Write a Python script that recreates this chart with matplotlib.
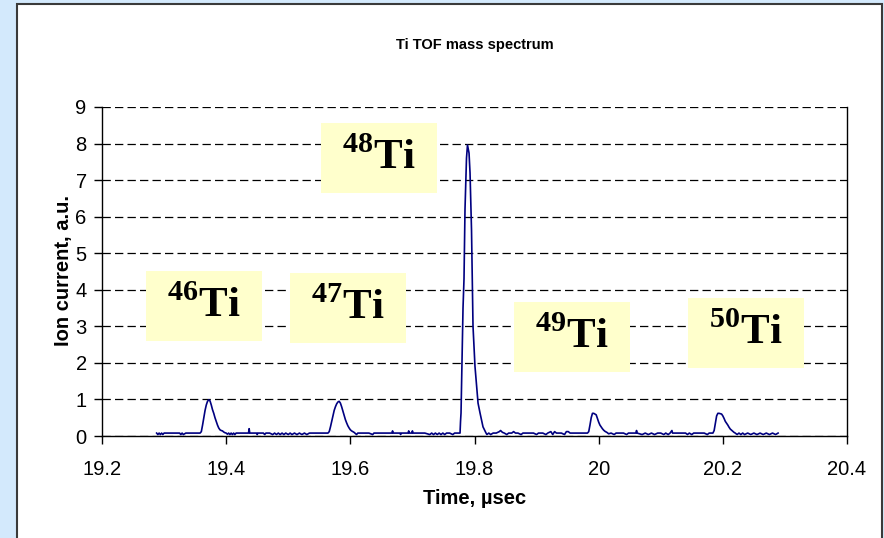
import matplotlib
matplotlib.use("Agg")
import matplotlib.pyplot as plt
from matplotlib.patches import Rectangle

# data, split into windows around each isotope
t_46 = [19.288, 19.290, 19.292, 19.294, 19.296, 19.298, 19.300, 19.305, 19.310, 19.315,
        19.320, 19.325, 19.327, 19.329, 19.331, 19.335, 19.340, 19.345, 19.350, 19.355,
        19.358, 19.360, 19.362, 19.364, 19.366, 19.368, 19.370, 19.372, 19.374, 19.376,
        19.378, 19.380, 19.382, 19.384, 19.386, 19.388, 19.390, 19.392, 19.394, 19.396,
        19.398, 19.400, 19.402, 19.404, 19.406, 19.408, 19.410, 19.412, 19.414, 19.416,
        19.420, 19.425, 19.430, 19.436, 19.437, 19.438, 19.445, 19.449, 19.450, 19.451,
        19.460, 19.462, 19.464, 19.470]
i_46 = [0.08, 0.04, 0.08, 0.04, 0.08, 0.04, 0.08, 0.08, 0.08, 0.08,
        0.08, 0.08, 0.04, 0.08, 0.04, 0.08, 0.08, 0.08, 0.08, 0.08,
        0.08, 0.12, 0.30, 0.50, 0.70, 0.85, 0.95, 0.99, 0.96, 0.85,
        0.72, 0.62, 0.50, 0.40, 0.30, 0.22, 0.17, 0.15, 0.14, 0.11,
        0.09, 0.08, 0.05, 0.08, 0.04, 0.08, 0.04, 0.08, 0.04, 0.08,
        0.08, 0.08, 0.08, 0.08, 0.20, 0.08, 0.08, 0.08, 0.04, 0.08,
        0.08, 0.04, 0.08, 0.08]

t_47 = [19.475, 19.478, 19.481, 19.484, 19.487, 19.490, 19.493, 19.496, 19.500, 19.503,
        19.506, 19.510, 19.514, 19.518, 19.522, 19.526, 19.530, 19.534, 19.540, 19.550,
        19.560, 19.564, 19.566, 19.568, 19.570, 19.572, 19.574, 19.576, 19.578, 19.580,
        19.582, 19.584, 19.586, 19.588, 19.590, 19.592, 19.594, 19.596, 19.598, 19.600,
        19.602, 19.604, 19.606, 19.608, 19.610, 19.612, 19.620, 19.630, 19.636, 19.638,
        19.640, 19.660, 19.667, 19.668, 19.669, 19.680, 19.681, 19.682, 19.690]
i_47 = [0.04, 0.08, 0.04, 0.08, 0.04, 0.08, 0.04, 0.08, 0.04, 0.08,
        0.04, 0.08, 0.04, 0.08, 0.04, 0.08, 0.04, 0.08, 0.08, 0.08,
        0.08, 0.08, 0.12, 0.25, 0.40, 0.55, 0.70, 0.80, 0.88, 0.93,
        0.95, 0.90, 0.80, 0.68, 0.55, 0.45, 0.36, 0.28, 0.22, 0.17,
        0.14, 0.12, 0.10, 0.07, 0.04, 0.08, 0.08, 0.08, 0.04, 0.08,
        0.08, 0.08, 0.08, 0.14, 0.08, 0.08, 0.04, 0.08, 0.08]

t_48 = [19.693, 19.694, 19.695, 19.699, 19.700, 19.701, 19.710, 19.720, 19.728, 19.731,
        19.734, 19.737, 19.740, 19.743, 19.746, 19.749, 19.752, 19.755, 19.760, 19.765,
        19.768, 19.772, 19.7767, 19.7775, 19.7783, 19.7799, 19.7815, 19.7831, 19.7847, 19.7871,
        19.7887, 19.7912, 19.7928, 19.7952, 19.7976, 19.8008, 19.8057, 19.8089, 19.8137, 19.8186,
        19.820, 19.823, 19.826, 19.830, 19.835, 19.840, 19.842, 19.845, 19.848, 19.852,
        19.855, 19.860, 19.863, 19.866, 19.870, 19.875, 19.878, 19.885, 19.890]
i_48 = [0.08, 0.14, 0.08, 0.08, 0.14, 0.08, 0.08, 0.08, 0.04, 0.08,
        0.04, 0.08, 0.04, 0.08, 0.04, 0.08, 0.04, 0.08, 0.08, 0.04,
        0.08, 0.08, 0.08, 0.40, 0.63, 2.00, 3.50, 4.30, 6.20, 7.60,
        7.96, 7.74, 7.20, 5.63, 3.00, 1.90, 0.90, 0.63, 0.25, 0.08,
        0.04, 0.08, 0.04, 0.08, 0.08, 0.12, 0.15, 0.10, 0.08, 0.04,
        0.08, 0.08, 0.12, 0.08, 0.08, 0.04, 0.08, 0.08, 0.08]

t_49 = [19.895, 19.900, 19.903, 19.910, 19.915, 19.918, 19.923, 19.926, 19.929, 19.932,
        19.940, 19.945, 19.948, 19.951, 19.954, 19.965, 19.975, 19.982, 19.984, 19.986,
        19.988, 19.990, 19.992, 19.994, 19.996, 19.998, 20.000, 20.002, 20.004, 20.006,
        20.008, 20.010, 20.012, 20.014, 20.016, 20.020, 20.025, 20.028, 20.040, 20.045,
        20.048, 20.060, 20.061, 20.062, 20.070, 20.075, 20.080, 20.085, 20.090, 20.095,
        20.100]
i_49 = [0.08, 0.04, 0.08, 0.08, 0.04, 0.08, 0.12, 0.04, 0.12, 0.08,
        0.08, 0.04, 0.12, 0.12, 0.08, 0.08, 0.08, 0.08, 0.12, 0.30,
        0.50, 0.62, 0.62, 0.60, 0.58, 0.48, 0.38, 0.30, 0.25, 0.20,
        0.16, 0.13, 0.11, 0.09, 0.06, 0.08, 0.04, 0.08, 0.08, 0.04,
        0.08, 0.08, 0.15, 0.08, 0.04, 0.08, 0.04, 0.08, 0.04, 0.08,
        0.08]

t_50 = [20.105, 20.108, 20.112, 20.115, 20.118, 20.119, 20.130, 20.140, 20.143, 20.146,
        20.150, 20.153, 20.160, 20.170, 20.175, 20.178, 20.184, 20.186, 20.188, 20.190,
        20.192, 20.194, 20.196, 20.198, 20.200, 20.202, 20.204, 20.206, 20.208, 20.210,
        20.212, 20.214, 20.216, 20.218, 20.220, 20.223, 20.226, 20.229, 20.232, 20.235,
        20.240, 20.245, 20.250, 20.255, 20.260, 20.265, 20.270, 20.275, 20.280, 20.285,
        20.289]
i_50 = [0.04, 0.08, 0.04, 0.08, 0.15, 0.08, 0.08, 0.08, 0.04, 0.08,
        0.04, 0.08, 0.08, 0.08, 0.04, 0.08, 0.08, 0.15, 0.35, 0.55,
        0.62, 0.62, 0.61, 0.60, 0.55, 0.48, 0.40, 0.35, 0.30, 0.24,
        0.19, 0.16, 0.13, 0.10, 0.08, 0.04, 0.08, 0.04, 0.08, 0.04,
        0.08, 0.04, 0.08, 0.04, 0.08, 0.04, 0.08, 0.04, 0.08, 0.04,
        0.08]

isotope_labels = ["46", "47", "48", "49", "50"]
x_ticks = [19.2, 19.4, 19.6, 19.8, 20.0, 20.2, 20.4]
x_tick_labels = ["19.2", "19.4", "19.6", "19.8", "20", "20.2", "20.4"]
y_ticks = [0, 1, 2, 3, 4, 5, 6, 7, 8, 9]

time_us = t_46 + t_47 + t_48 + t_49 + t_50
current = i_46 + i_47 + i_48 + i_49 + i_50

plt.rcParams["font.family"] = ["Liberation Sans", "DejaVu Sans"]
plt.rcParams["mathtext.fontset"] = "custom"
plt.rcParams["mathtext.rm"] = "Liberation Serif:bold"
plt.rcParams["mathtext.bf"] = "Liberation Serif:bold"
plt.rcParams["lines.scale_dashes"] = False

fig = plt.figure(figsize=(8.84, 5.38), dpi=100, facecolor="#d3e9fc")
# white chart panel with dark frame, kept behind the axes
panel = Rectangle((17 / 884, -0.02), 865 / 884, 1 - 4 / 538 + 0.02,
                  transform=fig.transFigure, facecolor="white",
                  edgecolor="#3a3a3a", linewidth=1.5, zorder=-10)
fig.patches.append(panel)

ax = fig.add_axes([102 / 884, 1 - 436 / 538, 745 / 884, 329 / 538], zorder=1)
ax.set_facecolor("none")
ax.plot(time_us, current, color="#000080", linewidth=1.2, zorder=3)

ax.set_xlim(19.2, 20.4)
ax.set_ylim(0, 9)
ax.set_xticks(x_ticks)
ax.set_xticklabels(x_tick_labels)
ax.set_yticks(y_ticks)
ax.tick_params(axis="both", direction="out", length=6, width=1, labelsize=14.5, color="black")
ax.tick_params(axis="x", pad=11)
ax.tick_params(axis="y", pad=5)
ax.yaxis.grid(True, color="black", linewidth=0.9, dashes=(6, 3))
ax.set_axisbelow(True)
for side in ["left", "bottom", "right"]:
    ax.spines[side].set_color("black")
    ax.spines[side].set_linewidth(1.0)
ax.spines["top"].set_visible(False)

# yellow isotope label boxes (axes fraction)
box_pos = [(0.059, 0.289), (0.2523, 0.2827), (0.294, 0.7386), (0.553, 0.1945), (0.7866, 0.2067)]
box_w, box_h = 0.1557, 0.2128
for lab, (bx, by) in zip(isotope_labels, box_pos):
    ax.add_patch(Rectangle((bx, by), box_w, box_h, transform=ax.transAxes,
                           facecolor="#ffffcc", edgecolor="none", zorder=4))
    ax.text(bx + box_w / 2, by + box_h / 2, "$^{" + lab + "}$Ti", transform=ax.transAxes,
            ha="center", va="center", fontsize=31, family="Liberation Serif",
            fontweight="bold", zorder=5)

fig.text(475 / 884, 1 - 45 / 538, "Ti TOF mass spectrum", ha="center", va="center",
         fontsize=10.5, fontweight="bold")
fig.text(63 / 884, 1 - 271 / 538, "Ion current, a.u.", ha="center", va="center",
         rotation=90, fontsize=14.5, fontweight="bold")
fig.text(475 / 884, 1 - 498 / 538, "Time, \u00b5sec", ha="center", va="center",
         fontsize=14.5, fontweight="bold")

fig.savefig("out.png", dpi=100, facecolor=fig.get_facecolor())
